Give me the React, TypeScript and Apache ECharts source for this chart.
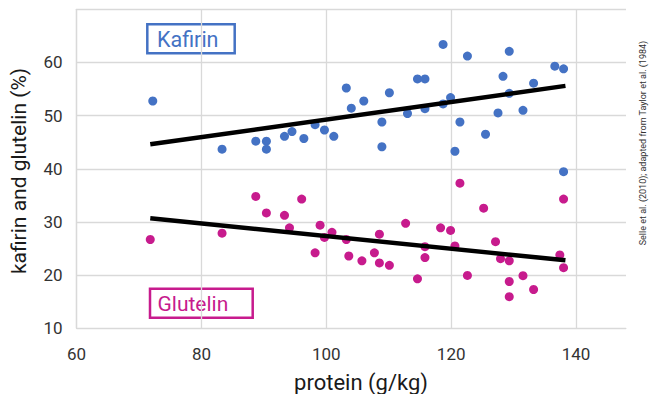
import React, { useEffect, useRef } from "react";
import * as echarts from "echarts";

const kafirinX = [72.2, 83.3, 88.7, 90.4, 90.4, 93.3, 94.5, 96.4, 98.2, 99.7, 101.2, 103.2, 104.0, 106.0, 108.9, 108.9, 110.1, 113.0, 114.6, 115.8, 115.8, 118.7, 118.7, 119.9, 120.6, 121.4, 122.6, 125.5, 127.5, 128.3, 129.3, 129.3, 131.5, 133.2, 136.6, 138.0, 138.0];
const kafirinY = [52.75, 43.7, 45.2, 45.2, 43.7, 46.1, 47.0, 45.7, 48.3, 47.3, 46.1, 55.2, 51.4, 52.75, 48.8, 44.15, 54.3, 50.4, 56.9, 56.9, 51.3, 63.4, 52.2, 53.4, 43.3, 48.8, 61.2, 46.5, 50.5, 57.4, 62.1, 54.2, 51.0, 56.1, 59.3, 58.8, 39.45];

const glutelinX = [71.8, 83.3, 88.7, 90.4, 93.3, 94.1, 96.05, 98.2, 99.0, 99.7, 100.9, 103.2, 103.6, 105.7, 107.7, 108.5, 108.5, 110.1, 112.7, 114.6, 115.8, 115.8, 118.3, 119.9, 120.6, 121.4, 122.6, 125.2, 127.1, 127.9, 129.3, 129.3, 129.3, 131.5, 133.2, 137.4, 138.0, 138.0];
const glutelinY = [26.7, 27.9, 34.8, 31.7, 31.25, 28.9, 34.3, 24.2, 29.4, 27.1, 28.05, 26.7, 23.6, 22.7, 24.2, 27.7, 22.3, 21.85, 29.75, 19.3, 25.35, 23.3, 28.9, 28.4, 25.5, 37.3, 19.95, 32.6, 26.3, 23.1, 22.7, 18.8, 15.95, 19.9, 17.3, 23.8, 34.3, 21.4];

const trendX = [71.8, 138.3];
const kafirinTrendY = [44.6, 55.6];
const glutelinTrendY = [30.7, 22.8];

const xTicks = [60, 80, 100, 120, 140];
const yTicks = [10, 20, 30, 40, 50, 60, 70];

const xTitle = "protein (g/kg)";
const yTitle = "kafirin and glutelin (%)";
const sourceText = "Selle et al. (2010); adapted from Taylor et al. (1984)";

const BLUE = "#4472C4";
const MAGENTA = "#C71B8D";
const GRID = "#D9D9D9";
const FONT = "Roboto";

const zip = (xs: number[], ys: number[]) => xs.map((x, i) => [x, ys[i]]);

export default function App() {
  const ref = useRef<HTMLDivElement>(null);
  useEffect(() => {
    if (!ref.current) return;
    const chart = echarts.init(ref.current, null, { renderer: "svg" });
    chart.setOption({
      animation: false,
      backgroundColor: "#ffffff",
      grid: { left: 76.6, right: 23, top: 9.3, bottom: 65.7 },
      xAxis: {
        type: "value",
        min: 60,
        max: 148,
        interval: 20,
        axisLine: { show: true, lineStyle: { color: GRID, width: 1 } },
        axisTick: { show: false, customValues: xTicks },
        splitLine: { show: true, lineStyle: { color: GRID, width: 1.3 } },
        axisLabel: {
          customValues: xTicks,
          showMaxLabel: true,
          margin: 17,
          fontSize: 17,
          fontFamily: FONT,
          color: "#333333",
        },
      },
      yAxis: {
        type: "value",
        min: 10,
        max: 70,
        interval: 10,
        axisLine: { show: true, lineStyle: { color: GRID, width: 1.3 } },
        axisTick: { show: false },
        splitLine: { show: true, lineStyle: { color: GRID, width: 1.3 } },
        axisLabel: {
          showMaxLabel: false,
          margin: 14,
          fontSize: 17,
          fontFamily: FONT,
          color: "#333333",
          formatter: (v: number) => (yTicks.includes(v) ? String(v) : ""),
        },
      },
      series: [
        {
          name: "Kafirin",
          type: "scatter",
          data: zip(kafirinX, kafirinY),
          symbolSize: 9,
          itemStyle: { color: BLUE, opacity: 1 },
          z: 2,
        },
        {
          name: "Glutelin",
          type: "scatter",
          data: zip(glutelinX, glutelinY),
          symbolSize: 9,
          itemStyle: { color: MAGENTA, opacity: 1 },
          z: 2,
        },
        {
          name: "Kafirin trend",
          type: "line",
          data: zip(trendX, kafirinTrendY),
          showSymbol: false,
          lineStyle: { color: "#000000", width: 4.5, cap: "butt" },
          z: 3,
        },
        {
          name: "Glutelin trend",
          type: "line",
          data: zip(trendX, glutelinTrendY),
          showSymbol: false,
          lineStyle: { color: "#000000", width: 4.5, cap: "butt" },
          z: 3,
        },
      ],
      graphic: [
        {
          type: "rect",
          shape: { x: 147.3, y: 24.3, width: 87.4, height: 29 },
          style: { fill: "none", stroke: BLUE, lineWidth: 2.5 },
        },
        {
          type: "text",
          x: 157,
          y: 39.5,
          style: {
            text: "Kafirin",
            fill: BLUE,
            fontSize: 21.5,
            fontFamily: FONT,
            verticalAlign: "middle",
            align: "left",
          },
        },
        {
          type: "rect",
          shape: { x: 150, y: 288.7, width: 102.7, height: 29 },
          style: { fill: "none", stroke: MAGENTA, lineWidth: 2.5 },
        },
        {
          type: "text",
          x: 157.5,
          y: 304,
          style: {
            text: "Glutelin",
            fill: MAGENTA,
            fontSize: 21,
            fontFamily: FONT,
            verticalAlign: "middle",
            align: "left",
          },
        },
        {
          type: "text",
          x: 361,
          y: 382,
          style: {
            text: xTitle,
            fill: "#1a1a1a",
            fontSize: 22,
            fontFamily: FONT,
            align: "center",
            verticalAlign: "middle",
          },
        },
        {
          type: "text",
          x: 19,
          y: 171,
          rotation: Math.PI / 2,
          style: {
            text: yTitle,
            fill: "#1a1a1a",
            fontSize: 21,
            fontFamily: FONT,
            align: "center",
            verticalAlign: "middle",
          },
        },
        {
          type: "text",
          x: 643,
          y: 143,
          rotation: Math.PI / 2,
          style: {
            text: sourceText,
            fill: "#333333",
            fontSize: 9,
            fontFamily: FONT,
            align: "center",
            verticalAlign: "middle",
          },
        },
      ],
    });
    return () => chart.dispose();
  }, []);
  return (
    <div
      ref={ref}
      style={{ position: "fixed", left: 0, top: 0, width: 649, height: 394 }}
    />
  );
}
